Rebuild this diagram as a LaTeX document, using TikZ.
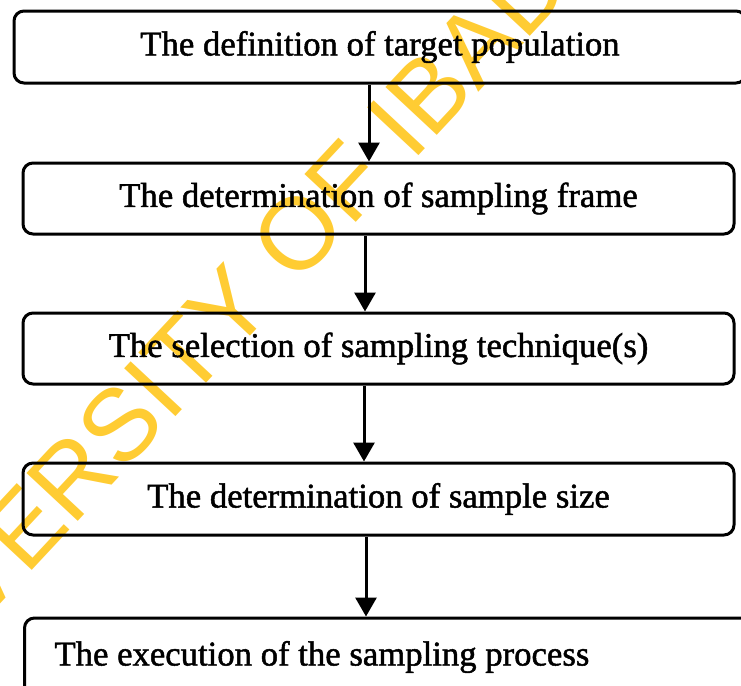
\documentclass[tikz,border=0pt]{standalone}
\usepackage{fontspec}
\newfontfamily\boxfont{Liberation Serif}[FakeBold=1.4]
\newfontfamily\wmfont{Liberation Sans}
\usetikzlibrary{arrows.meta}
\definecolor{wm}{RGB}{255,204,51}
\begin{document}
\begin{tikzpicture}[x=0.5pt,y=-0.5pt,
  box/.style={draw, line width=1.5pt, rounded corners=5pt, inner sep=0pt,
    font=\boxfont\fontsize{17.35}{20}\selectfont},
  arr/.style={line width=1.5pt, -{Triangle[length=9.5pt,width=10.5pt]}}]
\useasboundingbox (0,0) rectangle (741,686);
\clip (0,0) rectangle (741,686);
\fill[white] (0,0) rectangle (741,686);
\node[rotate=47, text=wm, font=\wmfont\fontsize{51}{60}\selectfont, inner sep=0pt] (wm) at (240,296) {UNIVERSITY OF IBADAN};
\node[box, minimum width=366pt, minimum height=36pt] (b1) at (380,47) {The definition of target population};
\node[box, minimum width=355.5pt, minimum height=35.5pt] (b2) at (378.5,198.5) {The determination of sampling frame};
\node[box, minimum width=355.5pt, minimum height=35.5pt] (b3) at (378.5,348.5) {The selection of sampling technique(s)};
\node[box, minimum width=355.5pt, minimum height=36pt] (b4) at (378.5,499) {The determination of sample size};
\node[box, anchor=west, minimum height=39pt, inner xsep=15pt] (b5) at (23,657) {\makebox[400pt][l]{The execution of the sampling process}};
\coordinate (a1) at ([xshift=-5.5pt]b1.south);
\coordinate (a2) at ([xshift=-6.75pt]b2.south);
\coordinate (a3) at ([xshift=-7.25pt]b3.south);
\coordinate (a4) at ([xshift=-6.25pt]b4.south);
\draw[arr] (a1) -- (a1 |- b2.north);
\draw[arr] (a2) -- (a2 |- b3.north);
\draw[arr] (a3) -- (a3 |- b4.north);
\draw[arr] (a4 |- b4.south) -- (a4 |- b5.north);
\end{tikzpicture}
\end{document}
